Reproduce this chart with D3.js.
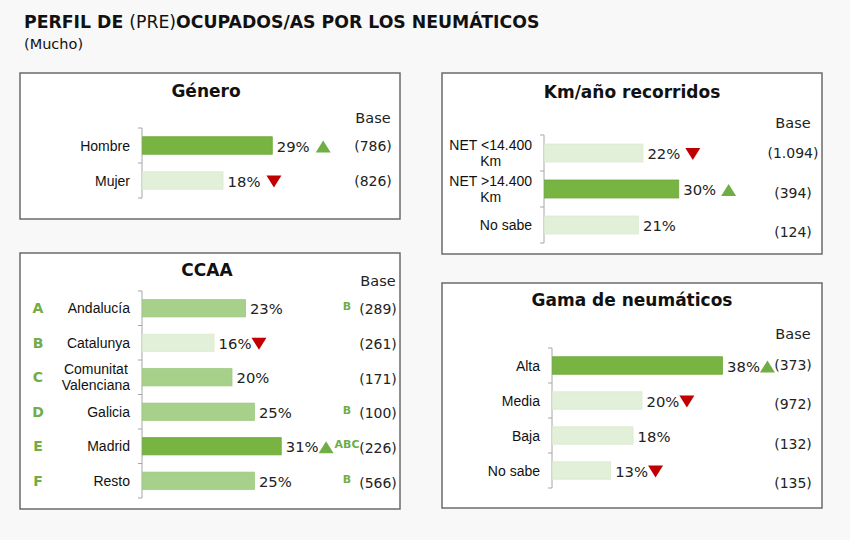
<!DOCTYPE html>
<html><head><meta charset="utf-8">
<script src="https://cdn.jsdelivr.net/npm/d3@7"></script>
<style>body{margin:0;background:#f8f8f8;} svg{display:block}</style>
</head><body>
<svg id="c" width="850" height="540"></svg>
<script>
// ---------- DATA ----------
const generoCats = ["Hombre","Mujer"];
const generoValues = [29,18];
const generoBase = ["(786)","(826)"];
const generoSig = ["up","down"];
const generoShade = ["dark","light"];

const ccaaIds = ["A","B","C","D","E","F"];
const ccaaCats = ["Andalucía","Catalunya","Comunitat\nValenciana","Galicia","Madrid","Resto"];
const ccaaValues = [23,16,20,25,31,25];
const ccaaBase = ["(289)","(261)","(171)","(100)","(226)","(566)"];
const ccaaSig = [null,"down",null,null,"up",null];
const ccaaLetterSig = ["B","","","B","ABC","B"];
const ccaaShade = ["mid","light","mid","mid","dark","mid"];

const kmCats = ["NET <14.400\nKm","NET >14.400\nKm","No sabe"];
const kmValues = [22,30,21];
const kmBase = ["(1.094)","(394)","(124)"];
const kmSig = ["down","up",null];
const kmShade = ["light","dark","light"];

const gamaCats = ["Alta","Media","Baja","No sabe"];
const gamaValues = [38,20,18,13];
const gamaBase = ["(373)","(972)","(132)","(135)"];
const gamaSig = ["up","down",null,"down"];
const gamaShade = ["dark","light","light","light"];

// ---------- STYLE ----------
const shadeColor = {dark:"#77b442", mid:"#a7d08b", light:"#e2efd9"};
const shadeStroke = {dark:"#6fa93d", mid:"#9dc880", light:"#dcebd2"};
const upColor = "#70ad47", downColor = "#c00000", letterColor = "#70ad47";
const numFont = "'DejaVu Sans', sans-serif";
const labFont = "'Liberation Sans', Arial, sans-serif";

const svg = d3.select("#c");
const x = d3.scaleLinear().domain([0, 40]).range([0, 179]);

// Title
const t = svg.append("text").attr("x", 24).attr("y", 28)
  .attr("font-family", numFont).attr("font-size", 17.3).attr("fill", "#111");
t.append("tspan").attr("font-weight", 700).text("PERFIL DE ");
t.append("tspan").attr("font-weight", 400).text("(PRE)");
t.append("tspan").attr("font-weight", 700).text("OCUPADOS/AS POR LOS NEUMÁTICOS");
svg.append("text").attr("x", 24).attr("y", 49).attr("font-family", numFont)
  .attr("font-size", 14.5).attr("fill", "#111").text("(Mucho)");

function panel(cfg) {
  const g = svg.append("g");
  g.append("rect").attr("x", cfg.box[0]).attr("y", cfg.box[1])
    .attr("width", cfg.box[2]).attr("height", cfg.box[3])
    .attr("fill", "#fff").attr("stroke", "#6b6b6b").attr("stroke-width", 1.5);
  g.append("text").attr("x", cfg.box[0] + cfg.box[2] / 2 + cfg.titleDx).attr("y", cfg.titleY)
    .attr("text-anchor", "middle").attr("font-family", numFont).attr("font-weight", 700)
    .attr("font-size", 17).attr("fill", "#111").text(cfg.title);
  g.append("text").attr("x", cfg.baseX).attr("y", cfg.baseY).attr("text-anchor", "middle")
    .attr("font-family", numFont).attr("font-size", 14.5).attr("fill", "#222").text("Base");

  const n = cfg.cats.length;
  const y = d3.scaleBand().domain(d3.range(n)).range(cfg.yRange)
    .paddingInner(0.5).paddingOuter(0.25);
  const yb = d3.scalePoint().domain(d3.range(n)).range(cfg.baseRange);
  const ax = cfg.axisX;

  // axis
  const bounds = d3.range(n + 1).map(i => cfg.yRange[0] + i * y.step());
  g.append("line").attr("x1", ax).attr("x2", ax).attr("y1", cfg.yRange[0]).attr("y2", cfg.yRange[1])
    .attr("stroke", "#a6a6a6").attr("stroke-width", 1);
  g.selectAll(".tk").data(bounds).join("line").attr("x1", ax - 4).attr("x2", ax)
    .attr("y1", d => d).attr("y2", d => d).attr("stroke", "#a6a6a6");

  // bars
  g.selectAll(".bar").data(cfg.values).join("rect")
    .attr("x", ax + 0.5).attr("y", (d, i) => y(i))
    .attr("width", d => x(d)).attr("height", y.bandwidth())
    .attr("fill", (d, i) => shadeColor[cfg.shade[i]])
    .attr("stroke", (d, i) => shadeStroke[cfg.shade[i]]).attr("stroke-width", 0.8);

  // category labels
  cfg.cats.forEach((c, i) => {
    const lines = c.split("\n");
    const cy = y(i) + y.bandwidth() / 2;
    const txt = g.append("text").attr("font-family", labFont).attr("font-size", 14)
      .attr("fill", "#111").attr("text-anchor", "middle");
    const lh = 16;
    lines.forEach((l, k) => {
      txt.append("tspan").attr("y", cy + 5 + (k - (lines.length - 1) / 2) * lh).text(l);
    });
    const w = d3.max(txt.selectAll("tspan").nodes(), nd => nd.getComputedTextLength());
    txt.selectAll("tspan").attr("x", ax - 12 - w / 2);
  });

  // values + triangles
  cfg.values.forEach((v, i) => {
    const cy = y(i) + y.bandwidth() / 2;
    const vt = g.append("text").attr("x", ax + x(v) + 5).attr("y", cy + 6)
      .attr("font-family", numFont).attr("font-size", 14.8).attr("fill", "#222").text(v + "%");
    const s = cfg.sig[i];
    if (s) {
      const x0 = ax + x(v) + 5 + vt.node().getComputedTextLength() + cfg.triGap;
      const w = 15, h = 12, yc = cy + 1;
      const p = d3.path();
      if (s === "up") {
        p.moveTo(x0, yc + h / 2); p.lineTo(x0 + w, yc + h / 2); p.lineTo(x0 + w / 2, yc - h / 2);
      } else {
        p.moveTo(x0, yc - h / 2); p.lineTo(x0 + w, yc - h / 2); p.lineTo(x0 + w / 2, yc + h / 2);
      }
      p.closePath();
      g.append("path").attr("d", p.toString()).attr("fill", s === "up" ? upColor : downColor);
    }
  });

  // base values
  g.selectAll(".bv").data(cfg.base).join("text")
    .attr("x", cfg.baseX).attr("y", (d, i) => yb(i) + 5).attr("text-anchor", "middle")
    .attr("font-family", numFont).attr("font-size", 14).attr("fill", "#222").text(d => d);

  return {g, y};
}

panel({title: "Género", titleDx: -4, titleY: 97, box: [20, 73, 380, 146], axisX: 142,
  yRange: [128, 198], baseRange: [146, 181], baseX: 373, baseY: 123,
  cats: generoCats, values: generoValues, base: generoBase, sig: generoSig, shade: generoShade, triGap: 6});

const cc = panel({title: "CCAA", titleDx: -3, titleY: 276, box: [20, 253, 380, 256], axisX: 142,
  yRange: [291, 498], baseRange: [309, 483], baseX: 378, baseY: 286,
  cats: ccaaCats, values: ccaaValues, base: ccaaBase, sig: ccaaSig, shade: ccaaShade, triGap: 0});
cc.g.selectAll(".id").data(ccaaIds).join("text")
  .attr("x", 38).attr("y", (d, i) => cc.y(i) + cc.y.bandwidth() / 2 + 5).attr("text-anchor", "middle")
  .attr("font-family", numFont).attr("font-weight", 700).attr("font-size", 14)
  .attr("fill", letterColor).text(d => d);
cc.g.selectAll(".ls").data(ccaaLetterSig).join("text")
  .attr("x", 347).attr("y", (d, i) => cc.y(i) + cc.y.bandwidth() / 2 + 2).attr("text-anchor", "middle")
  .attr("font-family", numFont).attr("font-weight", 700).attr("font-size", 11)
  .attr("fill", letterColor).text(d => d);

panel({title: "Km/año recorridos", titleDx: 0, titleY: 98, box: [442, 73, 380, 181], axisX: 544,
  yRange: [135, 243], baseRange: [153, 232], baseX: 793, baseY: 128,
  cats: kmCats, values: kmValues, base: kmBase, sig: kmSig, shade: kmShade, triGap: 5});

panel({title: "Gama de neumáticos", titleDx: 0, titleY: 306, box: [442, 283, 380, 225], axisX: 552,
  yRange: [348, 488], baseRange: [365, 483], baseX: 793, baseY: 339,
  cats: gamaCats, values: gamaValues, base: gamaBase, sig: gamaSig, shade: gamaShade, triGap: 0});
</script>
</body></html>
